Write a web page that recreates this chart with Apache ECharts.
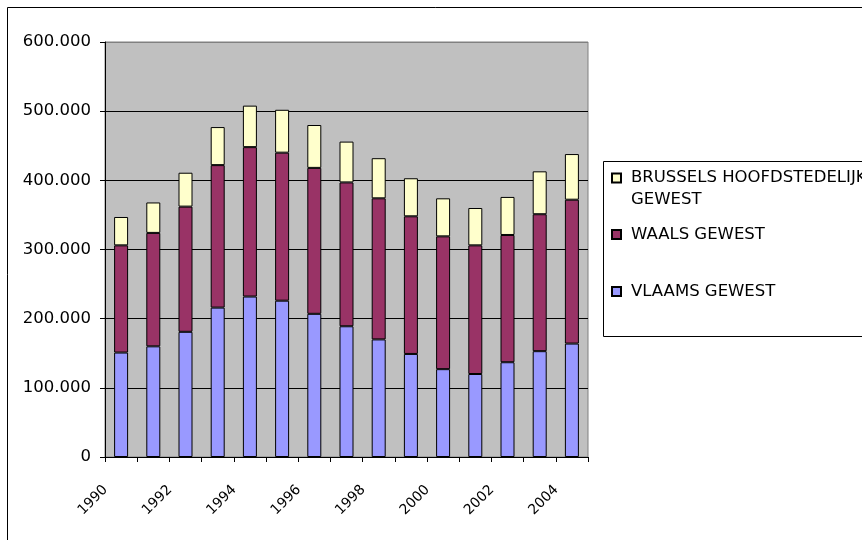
<!DOCTYPE html>
<html>
<head>
<meta charset="utf-8">
<script src="https://cdn.jsdelivr.net/npm/echarts@6/dist/echarts.min.js"></script>
<style>
  html, body { margin: 0; padding: 0; background: #fff; }
  #chart { width: 862px; height: 540px; }
</style>
</head>
<body>
<div id="chart"></div>
<script>
// data
var years = ['1990', '1991', '1992', '1993', '1994', '1995', '1996', '1997',
  '1998', '1999', '2000', '2001', '2002', '2003', '2004'];
var vlaams = [151000, 160000, 181000, 216000, 232000, 226000, 207000, 189000,
  170000, 149000, 127000, 120000, 137000, 153000, 164000];
var waals = [155000, 164000, 181000, 206000, 216000, 214000, 211000, 208000,
  204000, 199000, 192000, 186000, 184000, 198000, 208000];
var brussels = [41000, 44000, 49000, 55000, 60000, 62000, 62000, 59000,
  58000, 55000, 55000, 54000, 55000, 62000, 66000];
var seriesNames = ['VLAAMS GEWEST', 'WAALS GEWEST', 'BRUSSELS HOOFDSTEDELIJK GEWEST'];
var seriesColors = ['#9999FF', '#993366', '#FFFFCC'];

var font = 'DejaVu Sans';

function fmt(v) {
  return String(v).replace(/\B(?=(\d{3})+(?!\d))/g, '.');
}

var chart = echarts.init(document.getElementById('chart'));

// one legend per entry so the gaps can follow the original
function legendFor(name, top, formatter) {
  return {
    data: [name],
    left: 611,
    top: top,
    padding: 0,
    icon: 'rect',
    itemWidth: 9,
    itemHeight: 9,
    selectedMode: false,
    formatter: formatter || function (n) { return '{t|' + n + '}'; },
    textStyle: {
      rich: {
        t: { fontFamily: font, fontSize: 16.5, color: '#000', lineHeight: 21.5, padding: [0, 0, 0, 5] }
      }
    }
  };
}

var bars = [vlaams, waals, brussels].map(function (d, i) {
  return {
    name: seriesNames[i],
    type: 'bar',
    stack: 'total',
    barWidth: 14,
    data: d,
    itemStyle: { color: seriesColors[i], borderColor: '#000', borderWidth: 1 },
    emphasis: { disabled: true }
  };
});

chart.setOption({
  animation: false,
  backgroundColor: '#fff',
  graphic: [
    {
      type: 'rect',
      shape: { x: 7.5, y: 7.5, width: 900, height: 600 },
      style: { fill: 'none', stroke: '#000', lineWidth: 1 },
      silent: true
    },
    {
      type: 'rect',
      shape: { x: 603.5, y: 161.5, width: 300, height: 175 },
      style: { fill: 'none', stroke: '#000', lineWidth: 1 },
      silent: true
    }
  ],
  legend: [
    legendFor(seriesNames[2], 148, function () {
      return '{t| }\n{t|BRUSSELS HOOFDSTEDELIJK}\n{t|GEWEST}';
    }),
    legendFor(seriesNames[1], 226),
    legendFor(seriesNames[0], 283)
  ],
  grid: {
    left: 105,
    right: 274,
    top: 42,
    bottom: 83,
    show: true,
    backgroundColor: '#C0C0C0',
    borderColor: '#808080',
    borderWidth: 1
  },
  xAxis: {
    type: 'category',
    data: years,
    axisLine: { lineStyle: { color: '#000' } },
    axisTick: { show: true, interval: 0, length: 5, lineStyle: { color: '#000' } },
    axisLabel: {
      interval: 1,
      rotate: 45,
      margin: 15,
      padding: [0, 22, 0, 0],
      fontFamily: font,
      fontSize: 14,
      color: '#000'
    }
  },
  yAxis: {
    type: 'value',
    min: 0,
    max: 600000,
    interval: 100000,
    axisLine: { show: true, lineStyle: { color: '#000' } },
    axisTick: { show: true, length: 5, lineStyle: { color: '#000' } },
    splitLine: {
      lineStyle: { color: ['#000', '#000', '#000', '#000', '#000', '#000', '#808080'] }
    },
    axisLabel: {
      formatter: fmt,
      margin: 14,
      fontFamily: font,
      fontSize: 16.5,
      color: '#000'
    }
  },
  series: bars
});
</script>
</body>
</html>
